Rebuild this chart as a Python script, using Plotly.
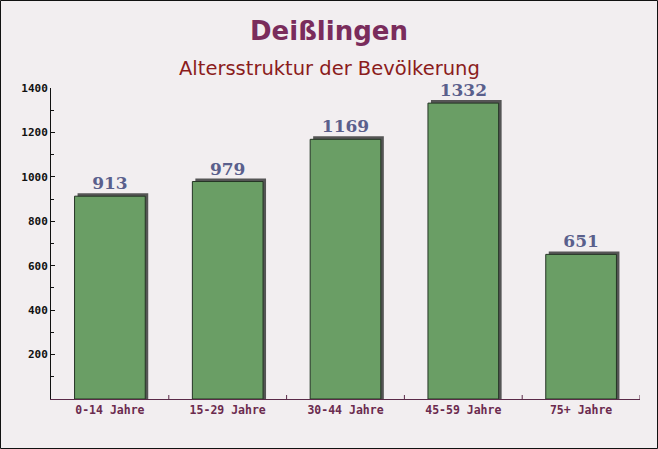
import plotly.graph_objects as go

categories = ["0-14 Jahre", "15-29 Jahre", "30-44 Jahre", "45-59 Jahre", "75+ Jahre"]
values = [913, 979, 1169, 1332, 651]
y_tickvals = [200, 400, 600, 800, 1000, 1200, 1400]

title_text = "Deißlingen"
subtitle_text = "Altersstruktur der Bevölkerung"

W, H = 658, 449
ml, mr, mt, mb = 51, 18, 88, 50
ymax = 1400
plot_h = H - mt - mb
plot_w = W - ml - mr
units_per_px = ymax / plot_h
shadow_dy = 3 * units_per_px

fig = go.Figure()

# shadow bars
fig.add_trace(go.Bar(
    x=categories, y=[v + shadow_dy for v in values],
    width=0.6, offset=-0.3 + 3 / (plot_w / len(categories)),
    marker=dict(color="#555555", line=dict(width=0)),
    hoverinfo="skip", showlegend=False,
))
# main bars
fig.add_trace(go.Bar(
    x=categories, y=values,
    width=0.6, offset=-0.3,
    marker=dict(color="#6a9e65", line=dict(color="#253525", width=1)),
    text=["<b>" + str(v) + "</b>" for v in values], textposition="outside",
    textfont=dict(family="DejaVu Serif", size=17, color="#5a5f8c"),
    cliponaxis=False, showlegend=False,
))

fig.update_layout(
    width=W, height=H,
    margin=dict(l=ml, r=mr, t=mt, b=mb),
    paper_bgcolor="#f2eef0",
    plot_bgcolor="rgba(0,0,0,0)",
    barmode="overlay",
    font=dict(family="DejaVu Sans Mono"),
    xaxis=dict(
        showgrid=False, zeroline=False,
        showline=True, linecolor="#5a2a48", linewidth=1,
        tickfont=dict(family="DejaVu Sans Mono", size=11.5, color="#6b2a4e", weight="bold"),
        ticks="", range=[-0.5, 4.5],
    ),
    yaxis=dict(
        range=[0, ymax], showgrid=False, zeroline=False,
        showline=True, linecolor="#111111", linewidth=1,
        tickvals=y_tickvals,
        ticks="inside", ticklen=4, tickcolor="#111111",
        minor=dict(dtick=100, ticks="inside", ticklen=3, tickcolor="#111111"),
        tickfont=dict(family="DejaVu Sans Mono", size=11, color="#111111", weight="bold"),
    ),
    annotations=[
        dict(text="<b>" + title_text + "</b>", xref="paper", yref="paper",
             x=0.5 + (W / 2 - ml - plot_w / 2) / plot_w, y=(H - mb - 31) / plot_h,
             xanchor="center", yanchor="middle", showarrow=False,
             font=dict(family="DejaVu Sans", size=26, color="#7a2c5c")),
        dict(text=subtitle_text, xref="paper", yref="paper",
             x=0.5 + (W / 2 - ml - plot_w / 2) / plot_w, y=(H - mb - 69) / plot_h,
             xanchor="center", yanchor="middle", showarrow=False,
             font=dict(family="DejaVu Sans", size=19.5, color="#8b1c1c")),
    ],
    shapes=[dict(type="rect", xref="paper", yref="paper",
                 x0=-ml / plot_w + 0.5 / plot_w, x1=1 + (mr - 0.5) / plot_w,
                 y0=-(mb - 0.5) / plot_h, y1=1 + (mt - 0.5) / plot_h,
                 line=dict(color="#111111", width=1))],
)

# category boundary ticks on x axis
for i in range(1, len(categories) + 1):
    fig.add_shape(type="line", xref="x", yref="paper",
                  x0=i - 0.5, x1=i - 0.5, y0=0, y1=4 / plot_h,
                  line=dict(color="#5a2a48", width=1))

fig.write_html("out.html", config={"displayModeBar": False},
               post_script="document.body.style.margin='0';document.body.style.padding='0';")
